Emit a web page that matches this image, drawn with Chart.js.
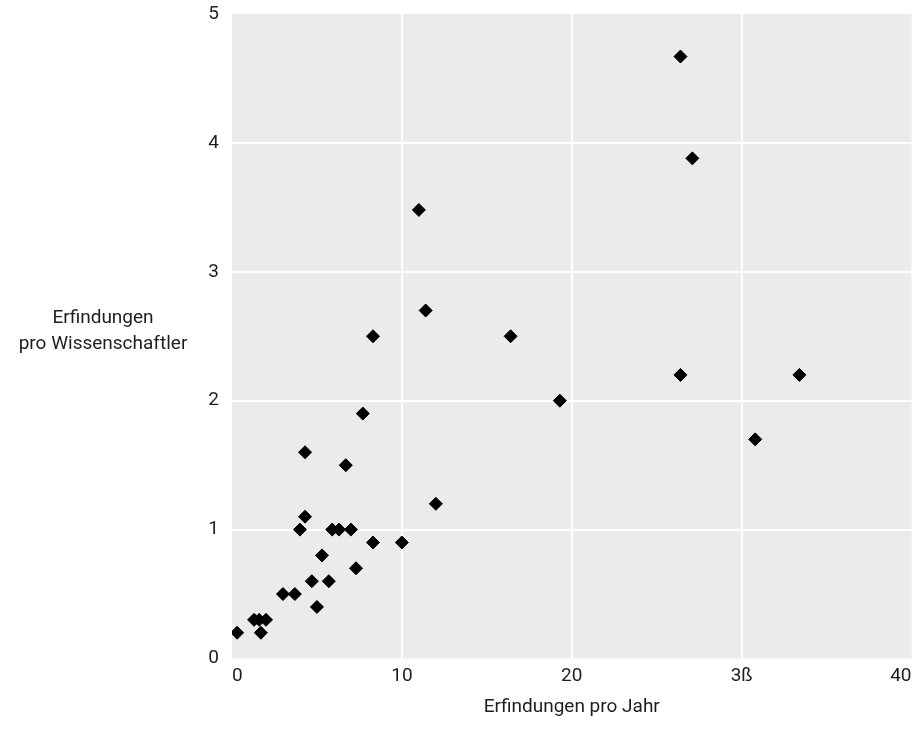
<!DOCTYPE html>
<html>
<head>
<meta charset="utf-8">
<script src="https://cdn.jsdelivr.net/npm/chart.js@4"></script>
<style>
  html, body { margin: 0; padding: 0; background: #fff; }
  #wrap { width: 919px; height: 731px; }
</style>
</head>
<body>
<div id="wrap"><canvas id="myChart"></canvas></div>
<script>
// Erfindungen pro Jahr (x) vs. Erfindungen pro Wissenschaftler (y)
const erfindungenProJahr = [
  0.3, 1.3, 1.6, 1.7, 2.0, 3.0, 3.7, 4.0, 4.3, 4.3,
  4.7, 5.0, 5.3, 5.7, 5.9, 6.3, 6.7, 7.0, 7.3, 7.7,
  8.3, 8.3, 10.0, 11.0, 11.4, 12.0, 16.4, 19.3, 26.4, 26.4,
  27.1, 30.8, 33.4
]
const erfindungenProWiss = [
  0.2, 0.3, 0.3, 0.2, 0.3, 0.5, 0.5, 1.0, 1.1, 1.6,
  0.6, 0.4, 0.8, 0.6, 1.0, 1.0, 1.5, 1.0, 0.7, 1.9,
  0.9, 2.5, 0.9, 3.48, 2.7, 1.2, 2.5, 2.0, 4.67, 2.2,
  3.88, 1.7, 2.2
]
const xTickValues = [0, 10, 20, 30, 40]
const xTickLabels = ['0', '10', '20', '3ß', '40']
const yTickLabels = ['0', '1', '2', '3', '4', '5']

const xTitle = 'Erfindungen pro Jahr'
const yTitle = ['Erfindungen', 'pro Wissenschaftler']

const FONT = "Roboto, 'Liberation Sans', sans-serif"
const FSIZE = 19
const TEXT = '#1e1e1e'

const panelBg = {
  id: 'panelBg',
  beforeDraw(chart) {
    const { ctx, chartArea: a } = chart
    ctx.save()
    ctx.fillStyle = '#ebebee'
    ctx.fillRect(a.left, a.top, a.right - a.left, a.bottom - a.top)
    ctx.restore()
  }
}

// horizontal two-line y title, left of the axis
const yTitlePlugin = {
  id: 'yTitlePlugin',
  afterDraw(chart) {
    const { ctx, chartArea: a } = chart
    ctx.save()
    ctx.font = FSIZE + 'px ' + FONT
    ctx.fillStyle = TEXT
    ctx.textAlign = 'center'
    ctx.textBaseline = 'middle'
    const cy = (a.top + a.bottom) / 2 - 5
    ctx.fillText(yTitle[0], 103, cy - 13)
    ctx.fillText(yTitle[1], 103, cy + 13)
    ctx.restore()
  }
}

const points = erfindungenProJahr.map((x, i) => ({ x, y: erfindungenProWiss[i] }))

new Chart(document.getElementById('myChart'), {
  type: 'scatter',
  data: {
    datasets: [{
      data: points,
      pointStyle: 'rectRot',
      pointRadius: 6.5,
      pointBorderWidth: 1,
      backgroundColor: '#000',
      borderColor: '#000'
    }]
  },
  plugins: [panelBg, yTitlePlugin],
  options: {
    responsive: true,
    maintainAspectRatio: false,
    animation: false,
    layout: { padding: { top: 14, right: 7, left: 0, bottom: 0 } },
    plugins: {
      legend: { display: false },
      tooltip: { enabled: false }
    },
    scales: {
      x: {
        type: 'linear',
        min: 0,
        max: 40,
        afterBuildTicks: (s) => { s.ticks = xTickValues.map(v => ({ value: v })) },
        afterFit: (s) => { s.height = 72.5; s.paddingLeft = 0; s.paddingRight = 0 },
        border: { display: false },
        grid: {
          drawTicks: false,
          lineWidth: 2,
          color: (c) => (c.tick && (c.tick.value === 0 || c.tick.value === 40)) ? 'rgba(0,0,0,0)' : '#fff'
        },
        ticks: {
          padding: 6,
          align: 'inner',
          color: TEXT,
          font: { family: FONT, size: FSIZE },
          maxRotation: 0,
          callback: (v) => xTickLabels[xTickValues.indexOf(v)]
        },
        title: {
          display: true,
          text: xTitle,
          color: TEXT,
          font: { family: FONT, size: FSIZE },
          padding: { top: 6, bottom: 12 }
        }
      },
      y: {
        type: 'linear',
        min: 0,
        max: 5,
        afterFit: (s) => { s.width = 232; s.paddingTop = 0; s.paddingBottom = 0 },
        border: { display: false },
        grid: {
          drawTicks: false,
          lineWidth: 2,
          color: (c) => (c.tick && (c.tick.value === 0 || c.tick.value === 5)) ? 'rgba(0,0,0,0)' : '#fff'
        },
        ticks: {
          stepSize: 1,
          padding: 13,
          color: TEXT,
          font: { family: FONT, size: FSIZE },
          callback: (v) => yTickLabels[v]
        }
      }
    }
  }
})
</script>
</body>
</html>
